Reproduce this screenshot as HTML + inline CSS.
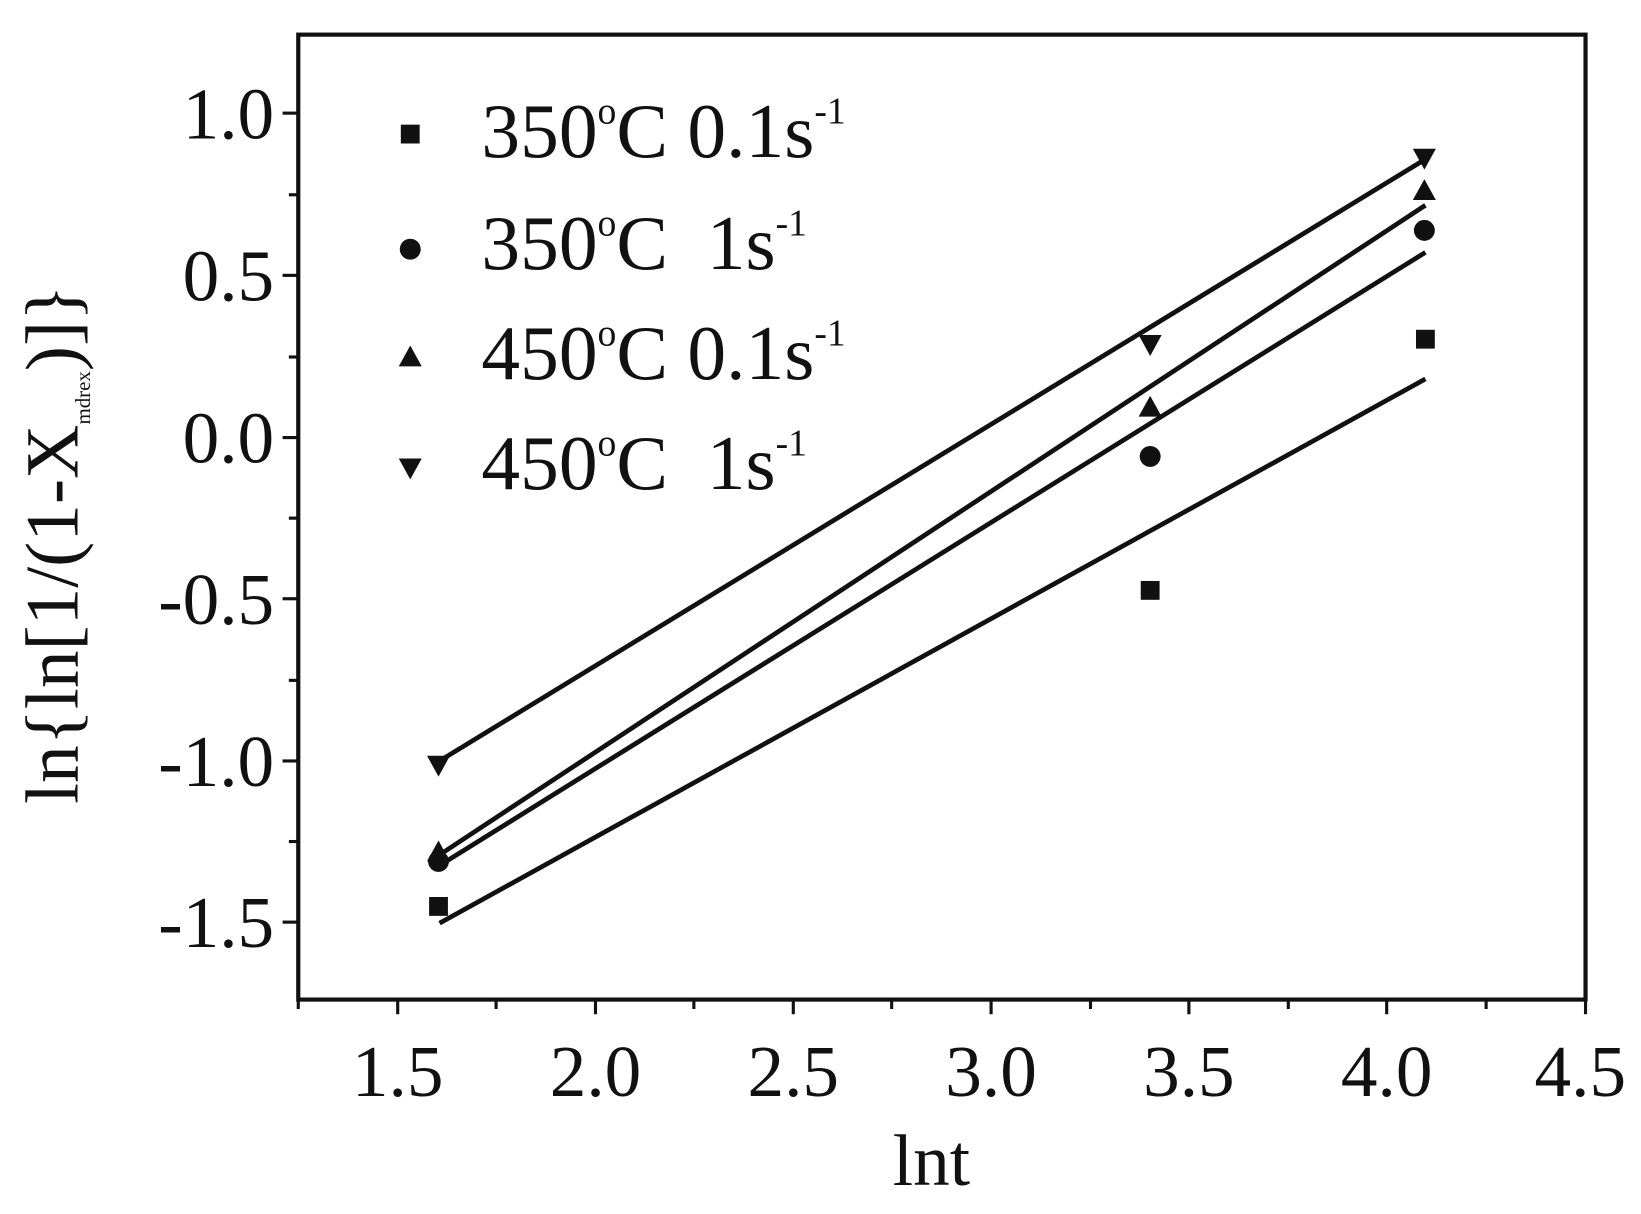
<!DOCTYPE html>
<html><head><style>body{margin:0;background:#fff}</style></head><body>
<svg width="1641" height="1209" viewBox="0 0 1568 1155" xmlns="http://www.w3.org/2000/svg" font-family="Liberation Serif, serif" fill="#111">
<rect x="285" y="33" width="1230" height="922" fill="none" stroke="#111" stroke-width="4"/>
<g stroke="#111" stroke-width="3">
<line x1="270" y1="108" x2="285" y2="108"/><line x1="276" y1="186" x2="285" y2="186"/>
<line x1="270" y1="263" x2="285" y2="263"/><line x1="276" y1="341" x2="285" y2="341"/>
<line x1="270" y1="418" x2="285" y2="418"/><line x1="276" y1="495" x2="285" y2="495"/>
<line x1="270" y1="572" x2="285" y2="572"/><line x1="276" y1="650" x2="285" y2="650"/>
<line x1="270" y1="727" x2="285" y2="727"/><line x1="276" y1="804" x2="285" y2="804"/>
<line x1="270" y1="881" x2="285" y2="881"/>
<line x1="285" y1="955" x2="285" y2="964"/><line x1="380" y1="955" x2="380" y2="969"/>
<line x1="474" y1="955" x2="474" y2="964"/><line x1="569" y1="955" x2="569" y2="969"/>
<line x1="663" y1="955" x2="663" y2="964"/><line x1="758" y1="955" x2="758" y2="969"/>
<line x1="852" y1="955" x2="852" y2="964"/><line x1="947" y1="955" x2="947" y2="969"/>
<line x1="1042" y1="955" x2="1042" y2="964"/><line x1="1136" y1="955" x2="1136" y2="969"/>
<line x1="1231" y1="955" x2="1231" y2="964"/><line x1="1325" y1="955" x2="1325" y2="969"/>
<line x1="1420" y1="955" x2="1420" y2="964"/><line x1="1515" y1="955" x2="1515" y2="969"/>
</g>
<g font-size="70" text-anchor="end">
<text x="262" y="132">1.0</text><text x="262" y="287">0.5</text><text x="262" y="442">0.0</text>
<text x="262" y="596">-0.5</text><text x="262" y="751">-1.0</text><text x="262" y="905">-1.5</text>
</g>
<g font-size="70" text-anchor="middle">
<text x="380" y="1047">1.5</text><text x="569" y="1047">2.0</text><text x="758" y="1047">2.5</text>
<text x="947" y="1047">3.0</text><text x="1136" y="1047">3.5</text><text x="1325" y="1047">4.0</text><text x="1510" y="1047">4.5</text>
<text x="890" y="1132" font-size="70">lnt</text>
</g>
<text transform="translate(74,520) rotate(-90)" font-size="72" text-anchor="middle">ln{ln[1/(1-X<tspan font-size="20" dy="12">mdrex</tspan><tspan dy="-12">)]}</tspan></text>
<g stroke="#111" stroke-width="4.5">
<line x1="420" y1="882" x2="1362" y2="362"/>
<line x1="415" y1="830" x2="1362" y2="241"/>
<line x1="415" y1="820" x2="1362" y2="196"/>
<line x1="415" y1="730" x2="1362" y2="152"/>
</g>
<g>
<rect x="410" y="857" width="18" height="18"/><rect x="1090" y="555" width="18" height="18"/><rect x="1353" y="315" width="18" height="18"/>
<circle cx="419" cy="823" r="10"/><circle cx="1099" cy="436" r="10"/><circle cx="1361" cy="220" r="10"/>
<path d="M408 823 L430 823 L419 803Z"/><path d="M1088 398 L1110 398 L1099 378Z"/><path d="M1350 191 L1372 191 L1361 171Z"/>
<path d="M408 722 L430 722 L419 742Z"/><path d="M1088 320 L1110 320 L1099 340Z"/><path d="M1350 142 L1372 142 L1361 162Z"/>
<rect x="383" y="119" width="18" height="18"/>
<circle cx="392" cy="238" r="10"/>
<path d="M381 350 L403 350 L392 330Z"/>
<path d="M381 438 L403 438 L392 458Z"/>
</g>
<g font-size="74">
<text x="460" y="150">350<tspan font-size="36" dy="-32">o</tspan><tspan dy="32">C 0.1s</tspan><tspan font-size="36" dy="-32">-1</tspan></text>
<text x="460" y="257">350<tspan font-size="36" dy="-32">o</tspan><tspan dy="32" xml:space="preserve">C  1s</tspan><tspan font-size="36" dy="-32">-1</tspan></text>
<text x="460" y="362">450<tspan font-size="36" dy="-32">o</tspan><tspan dy="32">C 0.1s</tspan><tspan font-size="36" dy="-32">-1</tspan></text>
<text x="460" y="467">450<tspan font-size="36" dy="-32">o</tspan><tspan dy="32" xml:space="preserve">C  1s</tspan><tspan font-size="36" dy="-32">-1</tspan></text>
</g>
</svg>
</body></html>
